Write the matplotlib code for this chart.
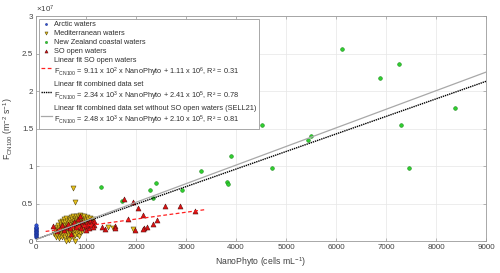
import matplotlib

matplotlib.use("Agg")
import matplotlib.pyplot as plt
import numpy as np
from matplotlib.ticker import FuncFormatter, MultipleLocator

# F_CN100 values are in units of 1e7 m-2 s-1, NanoPhyto in cells mL-1
arctic_x = [2, 5, 1, 8, 3, 6, 0, 4, 9, 2, 7, 1, 5, 3, 6]
arctic_y = [0.05, 0.07, 0.08, 0.09, 0.10, 0.11, 0.12, 0.13, 0.14, 0.15, 0.16, 0.17, 0.18, 0.19, 0.21]

med_x = [360, 370, 390, 400, 410, 420, 430, 440, 450, 455, 460, 470, 475, 480, 490, 495, 500, 505,
         510, 515, 520, 525, 530, 535, 540, 545, 550, 555, 560, 565, 570, 575, 580, 585, 590, 595,
         600, 605, 610, 615, 620, 625, 630, 635, 640, 645, 650, 655, 660, 665, 670, 675, 680, 685,
         690, 695, 700, 705, 710, 715, 720, 725, 730, 735, 740, 745, 750, 755, 760, 765, 770, 775,
         780, 785, 790, 795, 800, 805, 810, 815, 820, 825, 830, 835, 840, 845, 850, 855, 860, 865,
         870, 875, 880, 885, 890, 895, 900, 905, 910, 915, 920, 925, 930, 935, 940, 950, 955, 960,
         970, 980, 990, 1000, 1010, 1020, 1030, 1045, 1060, 1080, 1100, 1120, 1140,
         740, 787, 787, 1433, 1547, 1933, 600, 650]
med_y = [0.10, 0.16, 0.06, 0.12, 0.19, 0.08, 0.14, 0.22, 0.04, 0.17, 0.11, 0.25, 0.07, 0.15, 0.20, 0.09, 0.13, 0.23,
         0.05, 0.18, 0.27, 0.11, 0.15, 0.21, 0.08, 0.25, 0.13, 0.19, 0.29, 0.10, 0.16, 0.22, 0.06, 0.26, 0.14, 0.18,
         0.31, 0.09, 0.21, 0.12, 0.27, 0.16, 0.03, 0.23, 0.19, 0.11, 0.30, 0.14, 0.25, 0.07, 0.20, 0.17, 0.28, 0.12,
         0.22, 0.32, 0.15, 0.09, 0.26, 0.19, 0.13, 0.29, 0.05, 0.23, 0.17, 0.33, 0.21, 0.11, 0.27, 0.15, 0.31, 0.08,
         0.24, 0.19, 0.34, 0.13, 0.28, 0.22, 0.10, 0.30, 0.17, 0.25, 0.33, 0.14, 0.21, 0.27, 0.07, 0.31, 0.19, 0.24,
         0.35, 0.12, 0.28, 0.22, 0.16, 0.32, 0.26, 0.20, 0.34, 0.14, 0.29, 0.23, 0.31, 0.18, 0.27, 0.33, 0.21, 0.25,
         0.30, 0.19, 0.28, 0.24, 0.32, 0.22, 0.27, 0.29, 0.25, 0.31, 0.27, 0.23, 0.29,
         0.707, 0.52, 0.004, 0.19, 0.17, 0.16, 0.00, 0.02]

nz_x = [6113, 7253, 6873, 8380, 7293, 4520, 5493, 5447, 4720, 7453, 3900, 3293, 3813, 3847,
        2400, 2273, 2913, 1293, 1713, 2347]
nz_y = [2.556, 2.364, 2.173, 1.778, 1.542, 1.542, 1.400, 1.342, 0.978, 0.973, 1.133, 0.929, 0.791, 0.760,
        0.773, 0.676, 0.684, 0.720, 0.537, 0.573]

so_x = [1767, 1933, 2047, 2587, 2887, 3187, 2133, 1847, 2427, 2333, 2220, 2167, 2140, 1980, 1580, 1580,
        1373, 1313, 1167, 333, 420, 480, 520, 560, 600, 640, 680, 720, 760, 800, 830, 860, 880, 900,
        920, 960, 990, 1010, 1040, 1060, 1080, 1100, 1110, 1130, 1150, 700, 1000]
so_y = [0.564, 0.524, 0.444, 0.471, 0.462, 0.400, 0.347, 0.289, 0.280, 0.222, 0.182, 0.178, 0.164, 0.147,
        0.200, 0.169, 0.156, 0.191, 0.213, 0.200, 0.13, 0.17, 0.21, 0.15, 0.19, 0.23, 0.17, 0.21, 0.25, 0.19,
        0.29, 0.23, 0.33, 0.18, 0.26, 0.22, 0.20, 0.26, 0.23, 0.17, 0.28, 0.21, 0.25, 0.19, 0.27, 0.09, 0.15]

# linear fits: slope (per cell mL-1, in 1e7 units), intercept (1e7 units), x range
fit_so = (9.11e2 / 1e7, 1.11e6 / 1e7, [193, 3413])
fit_all = (2.34e3 / 1e7, 2.41e5 / 1e7, [0, 9000])
fit_no_so = (2.48e3 / 1e7, 2.10e5 / 1e7, [0, 9000])

label_so = "Linear fit SO open waters\nF$_{CN100}$ = 9.11 x 10$^2$ x NanoPhyto + 1.11 x 10$^6$, R² = 0.31"
label_all = "Linear fit combined data set\nF$_{CN100}$ = 2.34 x 10$^3$ x NanoPhyto + 2.41 x 10$^5$, R² = 0.78"
label_no_so = ("Linear fit combined data set without SO open waters (SELL21)\n"
               "F$_{CN100}$ = 2.48 x 10$^3$ x NanoPhyto + 2.10 x 10$^5$, R² = 0.81")

plt.rcParams["font.family"] = ["Liberation Sans", "DejaVu Sans"]
plt.rcParams["mathtext.default"] = "regular"
plt.rcParams["mathtext.fontset"] = "custom"
plt.rcParams["mathtext.rm"] = "Liberation Sans"

fig = plt.figure(figsize=(5, 2.73), dpi=100)
ax = fig.add_axes([0.072, 0.117, 0.9, 0.824])

ax.scatter(arctic_x, arctic_y, s=6, marker="o", facecolor="#2b4fd6", edgecolor="#1a2f8a",
           linewidths=0.4, label="Arctic waters", zorder=3, clip_on=False)
ax.scatter(med_x, med_y, s=13, marker="v", facecolor="#e8c21a", edgecolor="#5a4a10",
           linewidths=0.4, label="Mediterranean waters", zorder=3, clip_on=False)
ax.scatter(nz_x, nz_y, s=7, marker="o", facecolor="#2fd02f", edgecolor="#1a8a1a",
           linewidths=0.4, label="New Zealand coastal waters", zorder=3)
ax.scatter(so_x, so_y, s=13, marker="^", facecolor="#e01010", edgecolor="#5a1010",
           linewidths=0.4, label="SO open waters", zorder=4)

for (slope, icpt, xr), style, label in [
    (fit_so, dict(color="#ff2020", linestyle=(0, (3, 2)), linewidth=0.9), label_so),
    (fit_all, dict(color="black", linestyle=(0, (1, 0.6)), linewidth=1.0), label_all),
    (fit_no_so, dict(color="#a8a8a8", linestyle="-", linewidth=0.9), label_no_so),
]:
    xs = np.array(xr, dtype=float)
    ax.plot(xs, slope * xs + icpt, label=label, zorder=5, **style)

ax.set_xlim(0, 9000)
ax.set_ylim(0, 3)
ax.xaxis.set_major_locator(MultipleLocator(1000))
ax.yaxis.set_major_locator(MultipleLocator(0.5))
ax.yaxis.set_major_formatter(FuncFormatter(lambda v, _: f"{v:g}"))
ax.grid(True, color="#e6e6e6", linewidth=0.5)
ax.set_axisbelow(True)
for spine in ax.spines.values():
    spine.set_color("#9a9a9a")
    spine.set_linewidth(0.6)
ax.tick_params(direction="in", length=2.5, width=0.5, color="#9a9a9a", labelsize=5.8,
               labelcolor="#404040", top=True, right=True, pad=2)

ax.text(0.0, 1.005, "×10$^{7}$", transform=ax.transAxes, fontsize=5.8, color="#404040",
        ha="left", va="bottom")
ax.set_xlabel("NanoPhyto (cells mL$^{-1}$)", fontsize=6.2, color="#404040", labelpad=3)
ax.set_ylabel("F$_{CN100}$ (m$^{-2}$ s$^{-1}$)", fontsize=6.2, color="#404040", labelpad=5)

leg = ax.legend(loc="upper left", bbox_to_anchor=(0.006, 0.988), fontsize=5.3, frameon=True,
                fancybox=False, framealpha=1, edgecolor="#9a9a9a", handlelength=1.5,
                handletextpad=0.3, labelspacing=0.25, borderpad=0.3, borderaxespad=0,
                markerscale=0.6)
leg.get_frame().set_linewidth(0.6)
for txt in leg.get_texts():
    txt.set_color("#303030")

fig.savefig("out.png", dpi=100)
